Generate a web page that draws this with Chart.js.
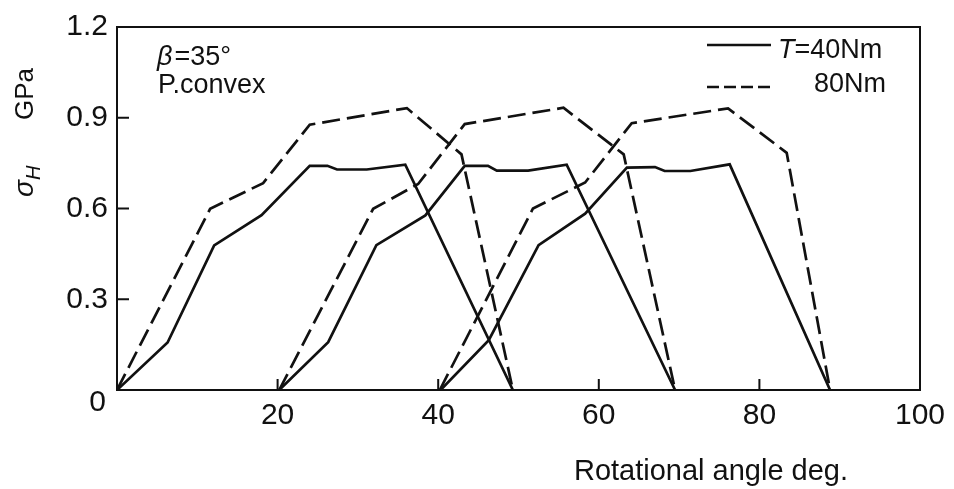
<!DOCTYPE html>
<html>
<head>
<meta charset="utf-8">
<script src="https://cdn.jsdelivr.net/npm/chart.js@4.4.1/dist/chart.umd.min.js"></script>
<style>
  html, body { margin: 0; padding: 0; background: #fff; }
</style>
</head>
<body>
<canvas id="chart" width="954" height="489"></canvas>
<script>
/* ── data ── */
// T = 40 Nm, three successive meshing cycles
const angle40a  = [0, 6.3, 12.1, 18.0, 24.0, 26.2, 27.4, 31.1, 35.9, 49.3];
const stress40a = [0, 0.157, 0.478, 0.578, 0.741, 0.741, 0.729, 0.729, 0.745, 0];
const angle40b  = [20.2, 26.3, 32.3, 38.4, 43.3, 46.2, 47.3, 51.2, 56.0, 69.5];
const stress40b = [0, 0.158, 0.479, 0.577, 0.741, 0.741, 0.725, 0.725, 0.745, 0];
const angle40c  = [40.3, 46.3, 52.5, 58.3, 63.5, 67.0, 68.2, 71.4, 76.3, 88.8];
const stress40c = [0, 0.165, 0.479, 0.583, 0.735, 0.737, 0.724, 0.724, 0.746, 0];

// T = 80 Nm
const angle80a  = [0, 11.6, 18.2, 24.0, 36.1, 42.9, 49.3];
const stress80a = [0, 0.599, 0.684, 0.877, 0.932, 0.779, 0];
const angle80b  = [20.2, 31.9, 37.5, 43.3, 55.6, 63.1, 69.5];
const stress80b = [0, 0.599, 0.681, 0.879, 0.933, 0.779, 0];
const angle80c  = [40.2, 51.8, 58.3, 64.1, 76.1, 83.4, 88.8];
const stress80c = [0, 0.600, 0.686, 0.882, 0.931, 0.784, 0];

const X_TICK_MARKS = [20, 40, 60, 80];
const Y_TICK_MARKS = [0.3, 0.6, 0.9];

const FONT = '"Liberation Sans", Arial, Helvetica, sans-serif';
const INK  = "#111";

/* ── helpers ── */
function pts(xs, ys) {
  return xs.map((x, i) => ({ x, y: ys[i] }));
}

function series(xs, ys, dashed) {
  return {
    data: pts(xs, ys),
    showLine: true,
    borderColor: INK,
    borderWidth: 2.7,
    borderDash: dashed ? [18, 7] : [],
    pointRadius: 0,
    tension: 0,
  };
}

/* ── frame, ticks, labels, legend ── */
const decor = {
  id: "decor",
  afterDraw(chart) {
    const { ctx, chartArea: a, scales: { x, y } } = chart;
    ctx.save();

    // box
    ctx.strokeStyle = INK;
    ctx.lineWidth = 2;
    ctx.strokeRect(a.left, a.top, a.right - a.left, a.bottom - a.top);

    // inward tick marks
    ctx.beginPath();
    Y_TICK_MARKS.forEach(v => {
      const py = y.getPixelForValue(v);
      ctx.moveTo(a.left, py); ctx.lineTo(a.left + 12, py);
    });
    X_TICK_MARKS.forEach(v => {
      const px = x.getPixelForValue(v);
      ctx.moveTo(px, a.bottom); ctx.lineTo(px, a.bottom - 11);
    });
    ctx.stroke();

    ctx.fillStyle = INK;

    // shared origin label
    ctx.font = `30px ${FONT}`;
    ctx.textAlign = "right";
    ctx.textBaseline = "middle";
    ctx.fillText("0", 106, 403);

    // x title
    ctx.textAlign = "center";
    ctx.textBaseline = "alphabetic";
    ctx.font = `29px ${FONT}`;
    ctx.fillText("Rotational angle deg.", 711, 480);

    // y title (rotated)
    ctx.save();
    ctx.translate(33, 197);
    ctx.rotate(-Math.PI / 2);
    ctx.textAlign = "left";
    ctx.font = `italic 28px ${FONT}`;
    ctx.fillText("\u03C3", 0, 0);
    const sw = ctx.measureText("\u03C3").width;
    ctx.font = `italic 20px ${FONT}`;
    ctx.fillText("H", sw, 7);
    ctx.font = `26px ${FONT}`;
    ctx.fillText("GPa", 77, 0);
    ctx.restore();

    // annotation
    ctx.textAlign = "left";
    ctx.font = `italic 27px ${FONT}`;
    ctx.fillText("\u03B2", 157, 65);
    const bw = ctx.measureText("\u03B2").width;
    ctx.font = `27px ${FONT}`;
    ctx.fillText("=35\u00B0", 157 + bw + 2, 65);
    ctx.fillText("P.convex", 158, 93);

    // legend
    ctx.lineWidth = 2.6;
    ctx.beginPath();
    ctx.moveTo(707, 45); ctx.lineTo(771, 45);
    ctx.stroke();
    ctx.setLineDash([12, 5]);
    ctx.beginPath();
    ctx.moveTo(707, 87); ctx.lineTo(771, 87);
    ctx.stroke();
    ctx.setLineDash([]);

    ctx.font = `italic 27px ${FONT}`;
    ctx.fillText("T", 778, 58);
    const tw = ctx.measureText("T").width;
    ctx.font = `27px ${FONT}`;
    ctx.fillText("=40Nm", 778 + tw, 58);
    ctx.textAlign = "right";
    ctx.fillText("80Nm", 886, 92);

    ctx.restore();
  },
};

/* ── chart ── */
new Chart(document.getElementById("chart"), {
  type: "scatter",
  data: {
    datasets: [
      series(angle40a, stress40a, false),
      series(angle40b, stress40b, false),
      series(angle40c, stress40c, false),
      series(angle80a, stress80a, true),
      series(angle80b, stress80b, true),
      series(angle80c, stress80c, true),
    ],
  },
  options: {
    responsive: false,
    animation: false,
    layout: { padding: { top: 23, right: 34, left: 0, bottom: 0 } },
    plugins: { legend: { display: false }, tooltip: { enabled: false } },
    scales: {
      x: {
        type: "linear",
        min: 0, max: 100,
        border: { display: false },
        grid: { display: false, drawTicks: false },
        ticks: {
          stepSize: 20,
          padding: 8,
          color: INK,
          font: { family: FONT, size: 30 },
          callback: v => (v === 0 ? "" : String(v)),
        },
        afterFit: s => { s.height = 99; },
      },
      y: {
        type: "linear",
        min: 0, max: 1.2,
        border: { display: false },
        grid: { display: false, drawTicks: false },
        ticks: {
          stepSize: 0.3,
          padding: 9,
          color: INK,
          font: { family: FONT, size: 30 },
          callback: v => (v === 0 ? "" : v.toFixed(1)),
        },
        afterFit: s => { s.width = 117; },
      },
    },
  },
  plugins: [decor],
});
</script>
</body>
</html>
